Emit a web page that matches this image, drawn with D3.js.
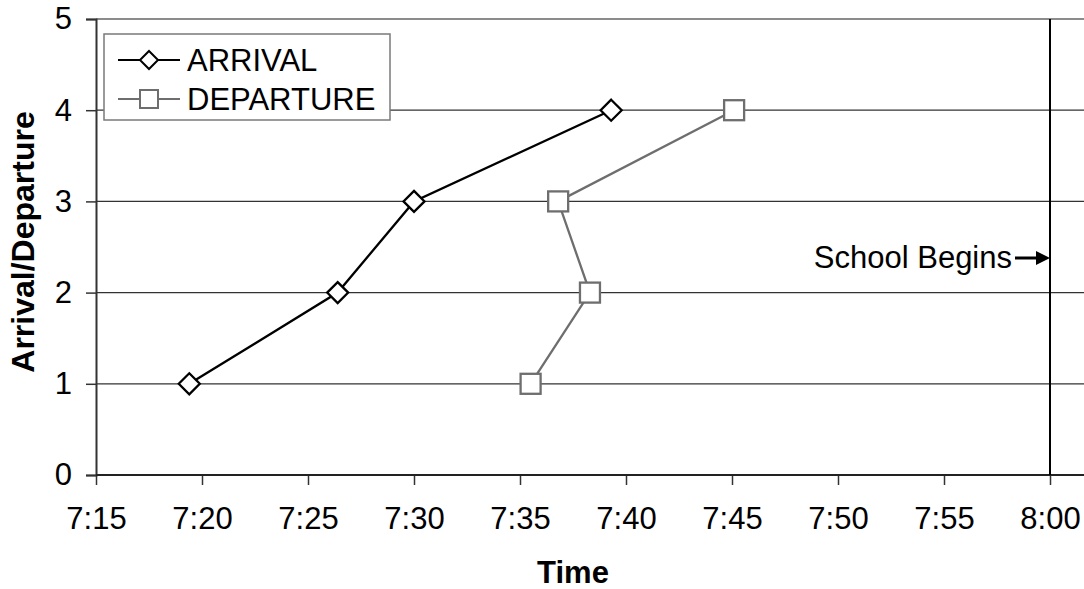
<!DOCTYPE html>
<html>
<head>
<meta charset="utf-8">
<script src="https://cdn.jsdelivr.net/npm/d3@7"></script>
<style>
  body { margin: 0; background: #fff; }
  svg { display: block; font-family: Arial, "Liberation Sans", sans-serif; }
</style>
</head>
<body>
<div id="chart"></div>
<script>
// Chart data (times as h:mm)
const xTickLabels = ['7:15', '7:20', '7:25', '7:30', '7:35', '7:40', '7:45', '7:50', '7:55', '8:00'];
const yTickValues = [0, 1, 2, 3, 4, 5];
const arrivalTimes = ['7:19.4', '7:26.4', '7:30.0', '7:39.3'];
const arrivalValues = [1, 2, 3, 4];
const departureTimes = ['7:35.5', '7:38.3', '7:36.8', '7:45.1'];
const departureValues = [1, 2, 3, 4];
const schoolBegins = '8:00';

// "7:19.4" -> minutes after midnight
function toMinutes(s) {
    const parts = s.split(':');
    return +parts[0] * 60 + +parts[1];
}
function fmtTime(m) {
    const h = Math.floor(m / 60);
    const mm = Math.round(m - h * 60);
    return h + ':' + String(mm).padStart(2, '0');
}

const width = 1084, height = 589;
const mLeft = 96, mTop = 19, mBottom = 475, plotRight = width + 10;
const fontSize = 31;

const svg = d3.select('#chart').append('svg')
    .attr('width', width).attr('height', height);

const x = d3.scaleLinear()
    .domain([toMinutes(xTickLabels[0]), toMinutes(xTickLabels[xTickLabels.length - 1])])
    .range([mLeft, 1050]);
const y = d3.scaleLinear().domain([0, 5]).range([mBottom, mTop]);

// Horizontal gridlines
svg.append('g').selectAll('line')
    .data(yTickValues.filter(v => v > 0 && v < 5))
    .join('line')
    .attr('x1', mLeft).attr('x2', plotRight)
    .attr('y1', d => y(d)).attr('y2', d => y(d))
    .attr('stroke', '#333').attr('stroke-width', 1.3);

// Top plot border
svg.append('line')
    .attr('x1', mLeft).attr('x2', plotRight)
    .attr('y1', y(5)).attr('y2', y(5))
    .attr('stroke', '#8c8c8c').attr('stroke-width', 2);

// Y axis
const yAxis = svg.append('g')
    .attr('transform', `translate(${mLeft},0)`)
    .call(d3.axisLeft(y).tickValues(yTickValues).tickSize(10).tickPadding(14).tickFormat(d3.format('d')));
yAxis.select('.domain').attr('stroke', '#333').attr('stroke-width', 2);
yAxis.selectAll('.tick line').attr('stroke', '#333').attr('stroke-width', 1.5);
yAxis.selectAll('text').attr('font-size', fontSize).attr('fill', '#000')
    .attr('font-family', 'Arial, "Liberation Sans", sans-serif');

// X axis
const xAxis = svg.append('g')
    .attr('transform', `translate(0,${mBottom})`)
    .call(d3.axisBottom(x).tickValues(xTickLabels.map(toMinutes)).tickSize(10).tickPadding(22).tickFormat(fmtTime));
xAxis.select('.domain').remove();
xAxis.append('line')
    .attr('x1', mLeft).attr('x2', plotRight)
    .attr('stroke', '#222').attr('stroke-width', 2);
xAxis.selectAll('.tick line').attr('stroke', '#333').attr('stroke-width', 1.5);
xAxis.selectAll('text').attr('font-size', fontSize).attr('fill', '#000')
    .attr('font-family', 'Arial, "Liberation Sans", sans-serif');

// School begins vertical line
const sx = x(toMinutes(schoolBegins));
svg.append('line')
    .attr('x1', sx).attr('x2', sx)
    .attr('y1', mTop).attr('y2', mBottom)
    .attr('stroke', '#000').attr('stroke-width', 2);

// Axis titles
svg.append('text')
    .attr('x', x(toMinutes('7:37.5'))).attr('y', 583)
    .attr('text-anchor', 'middle')
    .attr('font-size', fontSize).attr('font-weight', 'bold')
    .text('Time');
svg.append('text')
    .attr('transform', `translate(34,242) rotate(-90)`)
    .attr('text-anchor', 'middle')
    .attr('font-size', 32).attr('font-weight', 'bold')
    .text('Arrival/Departure');

// Annotation
const ay = 258;
svg.append('text')
    .attr('x', 1012).attr('y', ay + 10)
    .attr('text-anchor', 'end')
    .attr('font-size', fontSize)
    .text('School Begins');
svg.append('line')
    .attr('x1', 1015).attr('x2', sx - 10)
    .attr('y1', ay).attr('y2', ay)
    .attr('stroke', '#000').attr('stroke-width', 3);
svg.append('path')
    .attr('d', `M${sx},${ay} L${sx - 14},${ay - 7} L${sx - 14},${ay + 7} Z`)
    .attr('fill', '#000');

// Series
const line = d3.line().x(d => x(d.t)).y(d => y(d.v));
const arrival = arrivalTimes.map((t, i) => ({ t: toMinutes(t), v: arrivalValues[i] }));
const departure = departureTimes.map((t, i) => ({ t: toMinutes(t), v: departureValues[i] }));

const diamond = (cx, cy, r) => `M${cx},${cy - r} L${cx + r},${cy} L${cx},${cy + r} L${cx - r},${cy} Z`;

svg.append('path').datum(departure)
    .attr('d', line).attr('fill', 'none')
    .attr('stroke', '#6e6e6e').attr('stroke-width', 2.3);
svg.append('g').selectAll('rect').data(departure).join('rect')
    .attr('x', d => x(d.t) - 10).attr('y', d => y(d.v) - 10)
    .attr('width', 20).attr('height', 20)
    .attr('fill', '#fff').attr('stroke', '#6e6e6e').attr('stroke-width', 2.3);

svg.append('path').datum(arrival)
    .attr('d', line).attr('fill', 'none')
    .attr('stroke', '#000').attr('stroke-width', 2.3);
svg.append('g').selectAll('path').data(arrival).join('path')
    .attr('d', d => diamond(x(d.t), y(d.v), 10.5))
    .attr('fill', '#fff').attr('stroke', '#000').attr('stroke-width', 2.3);

// Legend
const legend = svg.append('g');
legend.append('rect')
    .attr('x', 104).attr('y', 34).attr('width', 286).attr('height', 86)
    .attr('fill', '#fff').attr('stroke', '#7a7a7a').attr('stroke-width', 1.5);
const legendItems = [
    { name: 'ARRIVAL', color: '#000', shape: 'diamond', cy: 60 },
    { name: 'DEPARTURE', color: '#6e6e6e', shape: 'square', cy: 99 }
];
legendItems.forEach(it => {
    legend.append('line')
        .attr('x1', 118).attr('x2', 180)
        .attr('y1', it.cy).attr('y2', it.cy)
        .attr('stroke', it.color).attr('stroke-width', 2);
    if (it.shape === 'diamond') {
        legend.append('path').attr('d', diamond(149, it.cy, 9))
            .attr('fill', '#fff').attr('stroke', it.color).attr('stroke-width', 2);
    } else {
        legend.append('rect')
            .attr('x', 140).attr('y', it.cy - 9).attr('width', 18).attr('height', 18)
            .attr('fill', '#fff').attr('stroke', it.color).attr('stroke-width', 2);
    }
    legend.append('text')
        .attr('x', 187).attr('y', it.cy + 11)
        .attr('font-size', fontSize)
        .text(it.name);
});
</script>
</body>
</html>
